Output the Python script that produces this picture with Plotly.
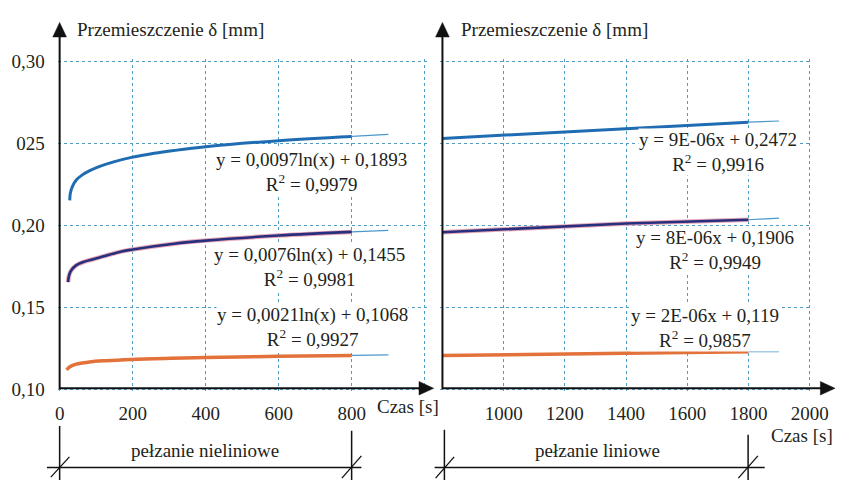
import plotly.graph_objects as go

W, H = 853, 489

# ---------------- data ----------------
# left panel: non-linear creep, time [s] and displacement [mm]
nl_top_t = [27.6, 29.4, 34.8, 45.5, 63, 81, 108, 148, 197, 259, 313, 400, 600, 800]
nl_top_d = [0.2151, 0.2196, 0.2235, 0.2275, 0.2308, 0.2331, 0.2357, 0.2386, 0.2413, 0.2438, 0.2455, 0.2478, 0.2515, 0.2541]
nl_mid_t = [23, 26, 32, 45, 68, 94, 170, 200, 313, 400, 600, 800]
nl_mid_d = [0.1653, 0.1696, 0.1725, 0.1755, 0.1778, 0.1794, 0.1840, 0.1852, 0.1887, 0.1906, 0.1937, 0.1959]
nl_bot_t = [19, 28, 45, 81, 126, 197, 304, 400, 600, 800]
nl_bot_d = [0.1118, 0.1137, 0.1153, 0.1166, 0.1174, 0.1182, 0.1189, 0.1194, 0.1201, 0.1206]
# thin trend-line continuation beyond the data
nl_trend_t = [800, 900]
nl_trend_top = [0.2541, 0.2553]
nl_trend_mid = [0.1959, 0.1968]
nl_trend_bot = [0.1206, 0.1210]

# right panel: linear creep
l_t = [800, 1200, 1400, 1800]
l_top_d = [0.2529, 0.2569, 0.2588, 0.2628]
l_mid_d = [0.1957, 0.1990, 0.2010, 0.2033]
l_bot_d = [0.1206, 0.1213, 0.1219, 0.1229]
l_trend_t = [1800, 1900]
l_trend_top = [0.2628, 0.2635]
l_trend_mid = [0.2033, 0.2043]
l_trend_bot = [0.1229, 0.1229]

left_xticks = [0, 200, 400, 600, 800, 1000]
left_xtext = ["0", "200", "400", "600", "800", ""]
right_xticks = [1000, 1200, 1400, 1600, 1800, 2000]
right_xtext = ["1000", "1200", "1400", "1600", "1800", "2000"]
yticks = [0.10, 0.15, 0.20, 0.25, 0.30]
ytext = ["0,10", "0,15", "0,20", "025", "0,30"]

left_eqs = ["y = 0,0097ln(x) + 0,1893", "y = 0,0076ln(x) + 0,1455", "y = 0,0021ln(x) + 0,1068"]
left_r2 = ["R<sup>2</sup> = 0,9979", "R<sup>2</sup> = 0,9981", "R<sup>2</sup> = 0,9927"]
right_eqs = ["y = 9E-06x + 0,2472", "y = 8E-06x + 0,1906", "y = 2E-06x + 0,119"]
right_r2 = ["R<sup>2</sup> = 0,9916", "R<sup>2</sup> = 0,9949", "R<sup>2</sup> = 0,9857"]

# ---------------- style ----------------
FONT = "Liberation Serif, Times New Roman, serif"
TXT = "#231f20"
GRID = "#4f9cc4"
BLUE = "#1f6cb2"
NAVY = "#27307e"
PINK = "#eaa7b6"
ORANGE = "#e2713a"
TREND = "#4a98cc"
FS = 19


def P(x):
    return x / W


def Q(y):
    return 1 - y / H


fig = go.Figure()


def line(x, y, ax, color, width, shape="spline"):
    fig.add_trace(go.Scatter(x=x, y=y, mode="lines", xaxis=ax[0], yaxis=ax[1],
                             line=dict(color=color, width=width, shape=shape),
                             hoverinfo="skip", showlegend=False))


L = ("x", "y")
R = ("x2", "y2")
for yy in (nl_trend_top, nl_trend_mid, nl_trend_bot):
    line(nl_trend_t, yy, L, TREND, 1.2, "linear")
for yy in (l_trend_top, l_trend_mid, l_trend_bot):
    line(l_trend_t, yy, R, TREND, 1.2, "linear")
line(nl_top_t, nl_top_d, L, BLUE, 3)
line(nl_mid_t, nl_mid_d, L, PINK, 4.5)
line(nl_mid_t, nl_mid_d, L, NAVY, 2.6)
line(nl_bot_t, nl_bot_d, L, ORANGE, 3.5)
line(l_t, l_top_d, R, BLUE, 3, "linear")
line(l_t, l_mid_d, R, PINK, 4.5, "linear")
line(l_t, l_mid_d, R, NAVY, 2.6, "linear")
line(l_t, l_bot_d, R, ORANGE, 3.5, "linear")

axcommon = dict(showgrid=True, gridcolor=GRID, griddash="dot", gridwidth=1,
                zeroline=False, showline=False, ticks="",
                tickfont=dict(family=FONT, size=FS, color=TXT))

# y scale: 85 px per 0.05; x left: 0.374 px/s; x right: 0.3133 px/s
# domains padded by 2 px so that the border grid lines are drawn
YPAD = 2 / 1700
XLPAD = 2 / 0.374
XRPAD = 2 / 0.3133

fig.update_layout(
    width=W, height=H, margin=dict(l=0, r=0, t=0, b=0),
    paper_bgcolor="white", plot_bgcolor="rgba(0,0,0,0)",
    xaxis=dict(domain=[P(56), P(434)], range=[0 - XLPAD, 1000 + XLPAD], tickmode="array",
               tickvals=left_xticks, ticktext=left_xtext, anchor="y",
               ticklabelstandoff=9, **axcommon),
    yaxis=dict(domain=[Q(397), Q(53)], range=[0.10 - YPAD, 0.30 + YPAD], tickmode="array",
               tickvals=yticks, ticktext=ytext, anchor="x",
               ticklabelstandoff=12, **axcommon),
    xaxis2=dict(domain=[P(448), P(828)], range=[800 - XRPAD, 2000 + XRPAD], tickmode="array",
                tickvals=right_xticks, ticktext=right_xtext, anchor="y2",
                ticklabelstandoff=9, **axcommon),
    yaxis2=dict(domain=[Q(397), Q(53)], range=[0.10 - YPAD, 0.30 + YPAD], tickmode="array",
                tickvals=yticks, showticklabels=False, anchor="x2", **axcommon),
)

shapes = []


def seg(x0, y0, x1, y1, w=2, color="#111"):
    shapes.append(dict(type="line", xref="paper", yref="paper",
                       x0=P(x0), y0=Q(y0), x1=P(x1), y1=Q(y1),
                       line=dict(color=color, width=w)))


def tri(pts):
    path = "M " + " L ".join(f"{P(x)},{Q(y)}" for x, y in pts) + " Z"
    shapes.append(dict(type="path", xref="paper", yref="paper", path=path,
                       fillcolor="#111", line=dict(color="#111", width=0.5)))


seg(58, 395, 58, 28)
tri([(51, 30), (65, 30), (58, 15)])
seg(58, 394, 428, 394)
tri([(426, 387), (426, 401), (441, 394)])
seg(450, 395, 450, 28)
tri([(443, 30), (457, 30), (450, 15)])
seg(450, 394, 839, 394)
tri([(837, 387), (837, 401), (852, 394)])

seg(45, 476, 367, 476, 1.5)
seg(58, 433, 58, 489, 1.5)
seg(357, 438, 357, 489, 1.5)
seg(49, 486, 68, 465, 1.3)
seg(347, 487, 367, 464, 1.3)
seg(442, 476, 780, 476, 1.5)
seg(452, 437, 452, 489, 1.5)
seg(763, 442, 763, 489, 1.5)
seg(443, 487, 462, 465, 1.3)
seg(753, 487, 773, 464, 1.3)
fig.update_layout(shapes=shapes)

ann = []


def text(s, x, y, xanchor="center", bg=None, size=FS):
    d = dict(text=s, x=P(x), y=Q(y), xref="paper", yref="paper", showarrow=False,
             xanchor=xanchor, yanchor="middle",
             font=dict(family=FONT, size=size, color=TXT), borderpad=0)
    if bg:
        d["bgcolor"] = bg
    ann.append(d)


text("Przemieszczenie δ [mm]", 75, 22, "left")
text("Przemieszczenie δ [mm]", 468, 22, "left")
text("Czas [s]", 382, 413, "left")
text("Czas [s]", 851, 443, "right")
text("pełzanie nieliniowe", 207, 458)
text("pełzanie liniowe", 609, 458)

lpos = [(316, 170), (314, 268), (317, 331)]
for s, r, (ex, ey) in zip(left_eqs, left_r2, lpos):
    text(s + "<br>" + r, ex, ey, bg="white")
rpos = [(732, 149), (729, 251), (719, 332)]
for s, r, (ex, ey) in zip(right_eqs, right_r2, rpos):
    text(s + "<br>" + r, ex, ey, bg="white")
fig.update_layout(annotations=ann)

fig.write_html("out.html")
